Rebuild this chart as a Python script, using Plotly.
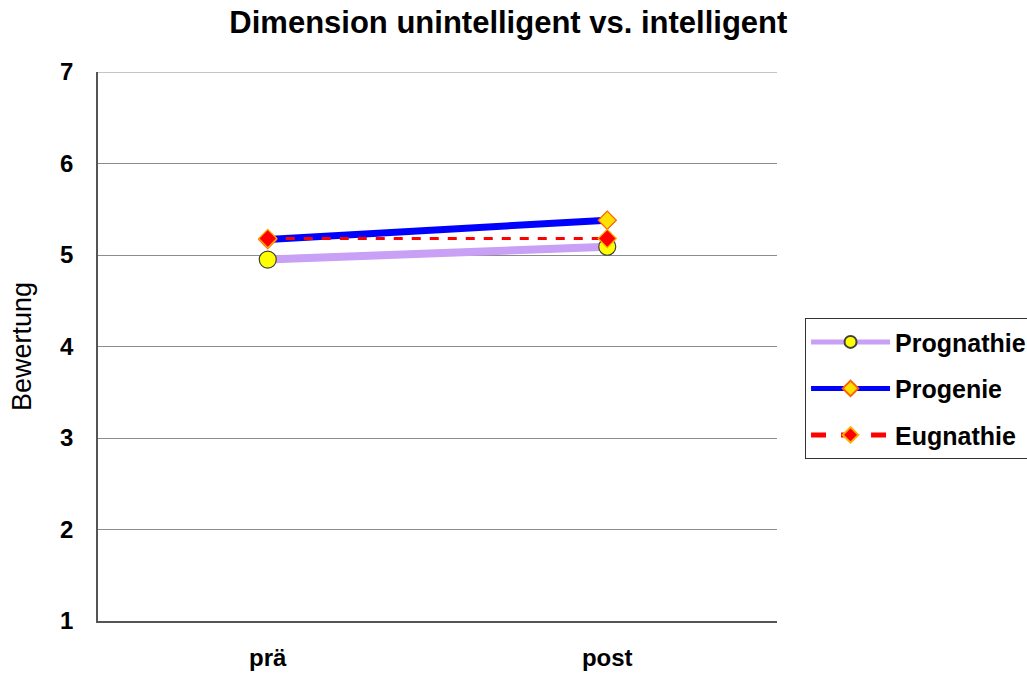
import plotly.graph_objects as go

categories = ["prä", "post"]
prognathie = [4.95, 5.09]
progenie = [5.17, 5.38]
eugnathie = [5.18, 5.18]
y_ticks = [1, 2, 3, 4, 5, 6, 7]

fig = go.Figure()
fig.add_trace(go.Scatter(
    x=categories, y=prognathie, name="<b>Prognathie</b>", mode="lines+markers",
    legendgroup="a",
    line=dict(color="#C8A0F5", width=8),
    marker=dict(symbol="circle", size=17, color="#FFFF00", line=dict(color="#404040", width=1.2)),
))
fig.add_trace(go.Scatter(
    x=categories, y=progenie, name="<b>Progenie</b>", mode="lines+markers",
    legendgroup="b",
    line=dict(color="#0000FF", width=7),
    marker=dict(symbol="diamond", size=14, color="#FFE000", line=dict(color="#FF6000", width=1.2)),
))
fig.add_trace(go.Scatter(
    x=categories, y=eugnathie, name="<b>Eugnathie</b>", mode="lines+markers",
    legendgroup="c",
    line=dict(color="#FF0000", width=3, dash="dash"),
    marker=dict(symbol="diamond", size=14, color="#FF0000", line=dict(color="#FFB000", width=1.2)),
))

fig.add_shape(type="line", xref="paper", x0=0, x1=1, yref="y",
              y0=y_ticks[-1], y1=y_ticks[-1], line=dict(color="#8C8C8C", width=1), layer="below")

fig.update_layout(
    width=1027, height=675,
    margin=dict(l=98, r=250, t=72, b=54, autoexpand=False),
    paper_bgcolor="white", plot_bgcolor="white",
    font=dict(family="Liberation Sans, Arial", color="black"),
    title=dict(text="<b>Dimension unintelligent vs. intelligent</b>", x=0.495, xanchor="center",
               xref="container", y=0.967, yref="container", yanchor="middle",
               font=dict(size=31, color="black")),
    xaxis=dict(type="category", range=[-0.5, 1.5], showgrid=False, showline=True,
               linecolor="#555555", linewidth=1.5, ticks="", tickfont=dict(size=24),
               tickprefix="<b>", ticksuffix="</b>", zeroline=False, ticklabelstandoff=14),
    yaxis=dict(range=[1, 7], tickvals=y_ticks, ticktext=[f"<b>{v}</b>" for v in y_ticks],
               showgrid=True, gridcolor="#8C8C8C", gridwidth=1, showline=True,
               linecolor="#555555", linewidth=1.5, ticks="", tickfont=dict(size=24),
               ticklabelstandoff=18, zeroline=False,
               title=dict(text="Bewertung", font=dict(size=27), standoff=21)),
    legend=dict(x=1.041, y=0.552, xanchor="left", yanchor="top",
                bordercolor="#333333", borderwidth=1.2, bgcolor="white",
                font=dict(size=25, color="black"), itemwidth=79,
                tracegroupgap=11, itemsizing="constant"),
    showlegend=True,
)

fig.write_html("out.html")
